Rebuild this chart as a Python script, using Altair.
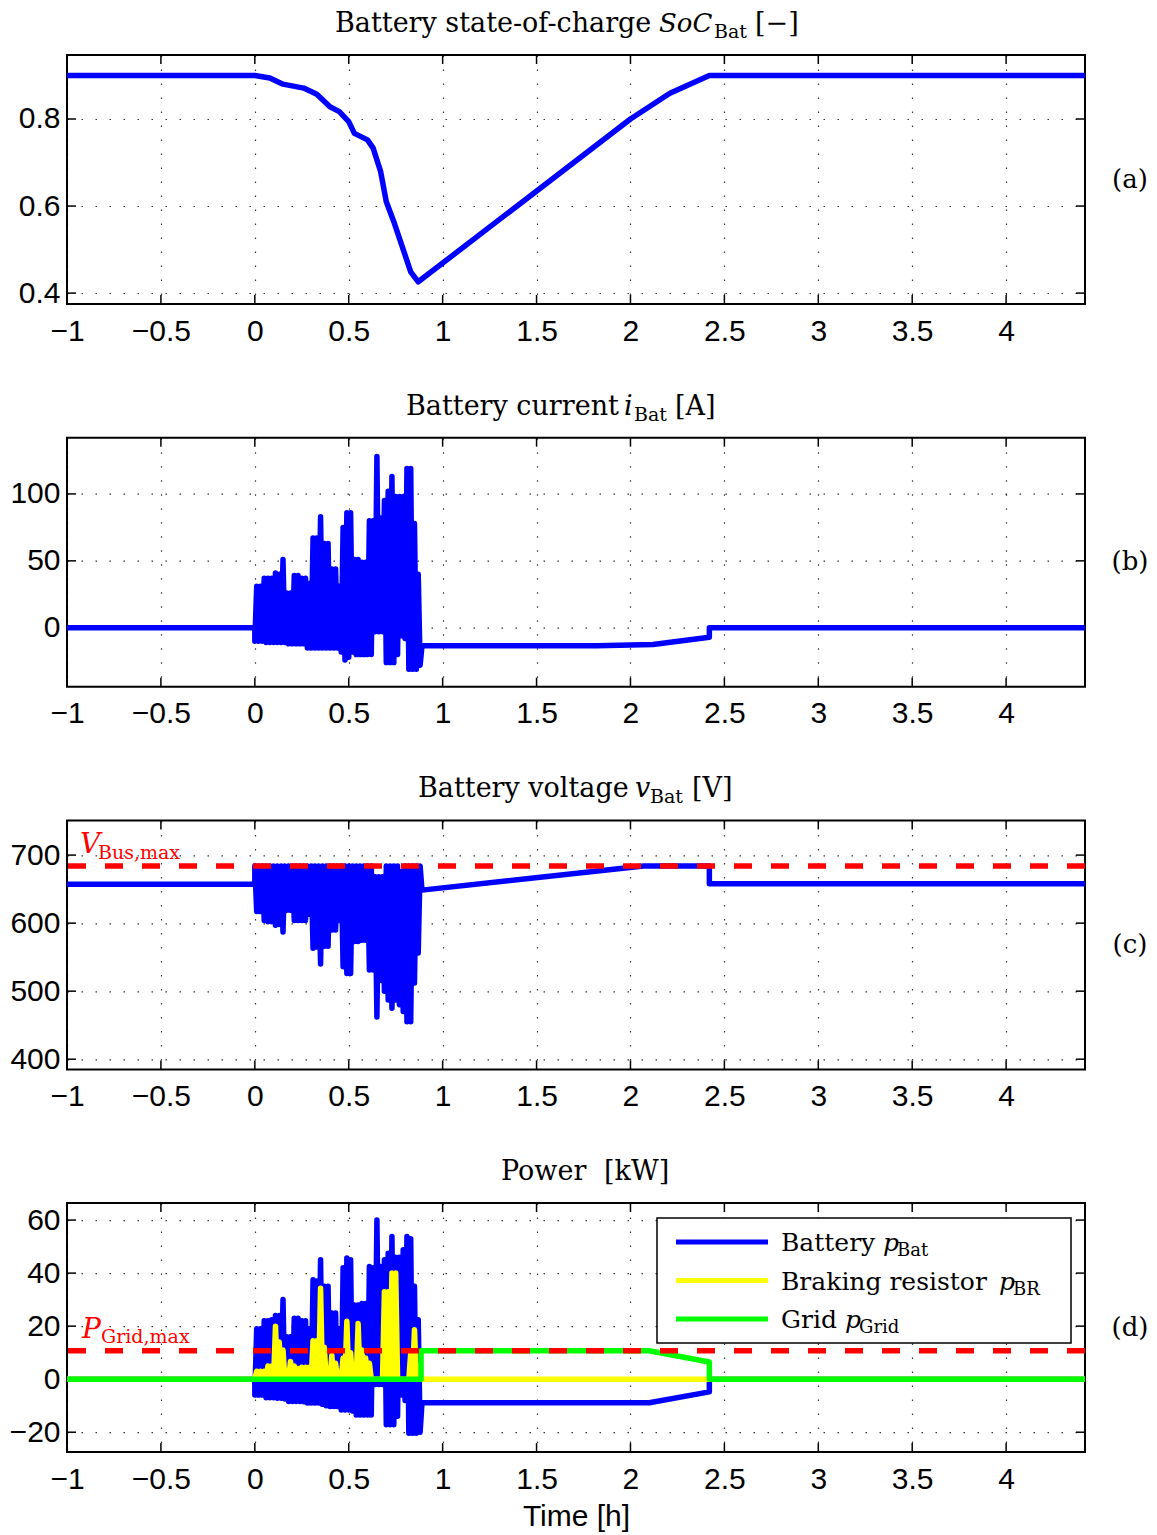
import altair as alt
import pandas as pd

# ---------------- data ----------------
T_MIN, T_MAX = -1.0, 4.42
X_TICKS = [-1, -0.5, 0, 0.5, 1, 1.5, 2, 2.5, 3, 3.5, 4]

# (a) state of charge
soc_t = [-1, 0, 0.08, 0.15, 0.26, 0.33, 0.40, 0.45, 0.50, 0.53, 0.60, 0.63, 0.67,
         0.70, 0.74, 0.77, 0.83, 0.87, 2.0, 2.21, 2.42, 4.42]
soc_v = [0.9, 0.9, 0.894, 0.880, 0.871, 0.857, 0.828, 0.817, 0.794, 0.767, 0.752, 0.733,
         0.679, 0.610, 0.564, 0.526, 0.449, 0.426, 0.80, 0.859, 0.9, 0.9]

# fast switching interval 0 .. 0.88 h : samples every 0.01 h,
# "lo" samples at 0.00, 0.02, ... 0.88 and "hi" samples at 0.01, 0.03, ... 0.87
noise_t = [round(0.01 * k, 2) for k in range(89)]

cur_lo = [-10, -10, -10, -11, -11, -11, -11, -11, -11, -12, -12, -12, -12, -12, -15, -15,
          -15, -15, -15, -15, -15, -15, -15, -18, -24, -22, -18, -20, -20, -20, -20, -20,
          -3, -3, -3, -26, -26, -26, -20, -6, -8, -31, -31, -31, -28]
cur_hi = [31, 31, 37, 37, 37, 41, 40, 51, 26, 26, 39, 39, 37, 37, 33, 67, 67, 83, 63, 63,
          44, 44, 31, 75, 86, 86, 51, 51, 49, 49, 80, 80, 128, 82, 95, 102, 113, 98, 98, 98,
          119, 119, 78, 40]

volt_hi = [684, 684, 684, 684, 684, 684, 684, 684, 684, 684, 684, 684, 684, 684, 684, 684,
           684, 684, 684, 684, 684, 684, 684, 684, 684, 684, 684, 684, 684, 684, 684, 684,
           668, 668, 668, 684, 684, 684, 684, 676, 684, 684, 684, 684, 684]
volt_lo = [617, 617, 604, 602, 602, 597, 598, 587, 619, 619, 604, 604, 604, 604, 613, 563,
           565, 540, 566, 566, 590, 590, 604, 536, 526, 526, 573, 573, 575, 575, 531, 531,
           462, 516, 500, 487, 475, 487, 480, 470, 455, 455, 512, 556]

pbat_lo = [-6, -6, -6, -7, -7, -7, -7.2, -7.2, -7.5, -8.4, -8.4, -8.4, -8.4, -8.5, -9, -9,
           -9, -9, -9.5, -10, -10.3, -10.3, -10.3, -11.6, -11.6, -11.6, -12, -13.5, -13.5,
           -13.5, -13.5, -13.5, -2, -2, -2, -17.2, -17.2, -17.2, -14, -6, -8, -20.4, -20.4,
           -20.4, -20]
pbat_hi = [19, 19, 22, 22, 22.4, 24, 24, 30, 16, 16, 23, 23, 22, 22, 19, 37.5, 37, 45, 35,
           35, 25, 25, 19, 42, 45.7, 45, 28, 28, 28.5, 28.5, 42.5, 42, 60, 42.5, 45, 47.5,
           53.8, 46, 46, 48.8, 53.8, 53, 35, 22.4]

pbr_lo = [0, 0, 0, 0, 0, 0, 0, 0, 0, 0, 0, 0, 0, 0, 0, 0, 0, 0, 0, 0, 0, 0, 0,
          0, 0, 0, 0, 0, 0, 0, 0, 0, 0, 0, 0, 0, 0, 0, 0, 0, 0, 0, 0, 0, 0]
pbr_hi = [3, 3, 3, 5, 5, 20, 14, 11, 2, 6.7, 5, 4, 4.5, 4.5, 4.5, 14.5, 14.5, 34.3, 12, 2,
          9, 6, 1, 8, 21.8, 10, 2, 21, 11, 8, 6, 0, 0, 0, 33, 33, 40, 40, 0, 0, 0, 10, 18.6, 5]

# segments before / after the switching interval
cur_pre_t, cur_pre_v = [-1, 0], [0, 0]
cur_post_t = [0.89, 1.82, 2.12, 2.42, 2.42, 4.42]
cur_post_v = [-13.5, -13.5, -12.5, -7, 0, 0]

volt_pre_t, volt_pre_v = [-1, 0], [657, 657]
volt_post_t = [0.89, 2.07, 2.42, 2.42, 4.42]
volt_post_v = [648.5, 684, 684, 658, 658]

pbat_pre_t, pbat_pre_v = [-1, 0], [0, 0]
pbat_post_t = [0.89, 2.10, 2.42, 2.42, 4.42]
pbat_post_v = [-8.9, -8.9, -4.8, 0, 0]

pbr_pre_t, pbr_pre_v = [-1, 0], [0, 0]
pbr_post_t, pbr_post_v = [0.89, 4.42], [0, 0]

grid_t = [-1, 0.885, 0.885, 2.10, 2.42, 2.42, 4.42]
grid_v = [0, 0, 10.7, 10.7, 6.5, 0, 0]

V_BUS_MAX = 684
P_GRID_MAX = 10.7

Y_DOMAINS = {"a": [0.375, 0.947], "b": [-44, 142], "c": [385, 751], "d": [-27.5, 66.4]}
Y_TICKS = {"a": [0.4, 0.6, 0.8], "b": [0, 50, 100], "c": [400, 500, 600, 700],
           "d": [-20, 0, 20, 40, 60]}
Y_FORMATS = {"a": ".1f", "b": "d", "c": "d", "d": "d"}

# ---------------- helpers ----------------
W, H = 1018, 249
SERIF = "DejaVu Serif"
SANS = "Liberation Sans"
BLUE, YELLOW, GREEN, RED = "#0000ff", "#ffff00", "#00ff00", "#ff0000"
ONE = pd.DataFrame({"k": [0]})


def interleave(lo, hi):
    out = []
    for k in range(len(lo)):
        out.append(lo[k])
        if k < len(hi):
            out.append(hi[k])
    return out


def frame(t, v):
    return pd.DataFrame({"t": t, "v": v, "i": list(range(len(t)))})


def full_series(pre_t, pre_v, lo, hi, post_t, post_v):
    return frame(pre_t + noise_t + post_t, pre_v + interleave(lo, hi) + post_v)


def encs(key, xtitle=None):
    xs = alt.Scale(domain=[T_MIN, T_MAX], nice=False, zero=False)
    ys = alt.Scale(domain=Y_DOMAINS[key], nice=False, zero=False)
    xa = alt.Axis(values=X_TICKS, format="~g", grid=True, ticks=False, domain=False,
                  labelPadding=12, titlePadding=7, labelFlush=False)
    ya = alt.Axis(values=Y_TICKS[key], format=Y_FORMATS[key], grid=True, ticks=False,
                  domain=False, labelPadding=7, labelFlush=False)
    X = alt.X("t:Q", scale=xs, axis=xa, title=xtitle)
    Y = alt.Y("v:Q", scale=ys, axis=ya, title=None)
    return X, Y


def line(df, X, Y, color, width=5.5):
    return alt.Chart(df).mark_line(color=color, strokeWidth=width, strokeJoin="round",
                                   strokeCap="round", clip=True).encode(
        x=X, y=Y, order=alt.Order("i:Q"))


def ticks(key, X, Y):
    xt = pd.DataFrame({"t": X_TICKS})
    yt = pd.DataFrame({"v": Y_TICKS[key]})
    base_x = alt.Chart(xt).mark_rule(color="black", strokeWidth=1.5)
    base_y = alt.Chart(yt).mark_rule(color="black", strokeWidth=1.5)
    return [
        base_x.encode(x=X, y=alt.value(0), y2=alt.value(9)),
        base_x.encode(x=X, y=alt.value(H), y2=alt.value(H - 9)),
        base_y.encode(y=Y, x=alt.value(0), x2=alt.value(9)),
        base_y.encode(y=Y, x=alt.value(W), x2=alt.value(W - 9)),
    ]


def txt(s, x, y, size, color="black", style="normal", font=SERIF, align="left",
        baseline="alphabetic"):
    return alt.Chart(ONE).mark_text(text=s, font=font, fontSize=size, fontStyle=style,
                                    color=color, align=align, baseline=baseline).encode(
        x=alt.value(x), y=alt.value(y))


def hrule(value, X, Y):
    return alt.Chart(pd.DataFrame({"v": [value]})).mark_rule(
        color=RED, strokeWidth=5.5, strokeDash=[18, 19]).encode(y=Y)


TB = -23  # title baseline relative to plot top
SB = -17  # subscript baseline

# ---------------- panel (a) ----------------
Xa, Ya = encs("a")
pa = alt.layer(
    *ticks("a", Xa, Ya),
    line(frame(soc_t, soc_v), Xa, Ya, BLUE),
    txt("Battery state-of-charge", 268, TB, 27),
    txt("SoC", 592, TB, 26, style="italic"),
    txt("Bat", 647, SB, 19),
    txt("[\u2212]", 688, TB, 27),
    txt("(a)", 1063, H / 2, 26, align="center", baseline="middle"),
).properties(width=W, height=H)

# ---------------- panel (b) ----------------
Xb, Yb = encs("b")
pb = alt.layer(
    *ticks("b", Xb, Yb),
    line(full_series(cur_pre_t, cur_pre_v, cur_lo, cur_hi, cur_post_t, cur_post_v),
         Xb, Yb, BLUE),
    txt("Battery current", 339, TB, 27),
    txt("i", 557, TB, 27, style="italic"),
    txt("Bat", 567, SB, 19),
    txt("[A]", 608, TB, 27),
    txt("(b)", 1063, H / 2, 26, align="center", baseline="middle"),
).properties(width=W, height=H)

# ---------------- panel (c) ----------------
Xc, Yc = encs("c")
pc = alt.layer(
    *ticks("c", Xc, Yc),
    line(full_series(volt_pre_t, volt_pre_v, volt_hi, volt_lo, volt_post_t, volt_post_v),
         Xc, Yc, BLUE),
    hrule(V_BUS_MAX, Xc, Yc),
    txt("V", 13, 33, 28, color=RED, style="italic"),
    txt("Bus,max", 31, 39, 19, color=RED),
    txt("Battery voltage", 351, TB, 27),
    txt("v", 568, TB, 27, style="italic"),
    txt("Bat", 583, SB, 19),
    txt("[V]", 625, TB, 27),
    txt("(c)", 1063, H / 2, 26, align="center", baseline="middle"),
).properties(width=W, height=H)

# ---------------- panel (d) ----------------
Xd, Yd = encs("d", xtitle="Time [h]")
legend_rows = [("Battery ", "Bat", BLUE, 816, 830),
               ("Braking resistor ", "BR", YELLOW, 932, 946),
               ("Grid ", "Grid", GREEN, 778, 792)]
legend_layers = [alt.Chart(ONE).mark_rect(fill="white", stroke="black", strokeWidth=1.5).encode(
    x=alt.value(590), x2=alt.value(1004), y=alt.value(15), y2=alt.value(140))]
for k, (lab, sub, col, px, sx) in enumerate(legend_rows):
    yc = 39 + 38.5 * k
    legend_layers.append(alt.Chart(ONE).mark_rule(color=col, strokeWidth=5).encode(
        x=alt.value(609), x2=alt.value(701), y=alt.value(yc)))
    legend_layers.append(txt(lab, 714, yc + 9, 25))
    legend_layers.append(txt("p", px, yc + 9, 25, style="italic"))
    legend_layers.append(txt(sub, sx, yc + 14, 18))

pd_ = alt.layer(
    *ticks("d", Xd, Yd),
    line(full_series(pbat_pre_t, pbat_pre_v, pbat_lo, pbat_hi, pbat_post_t, pbat_post_v),
         Xd, Yd, BLUE),
    line(full_series(pbr_pre_t, pbr_pre_v, pbr_lo, pbr_hi, pbr_post_t, pbr_post_v),
         Xd, Yd, YELLOW),
    line(frame(grid_t, grid_v), Xd, Yd, GREEN),
    hrule(P_GRID_MAX, Xd, Yd),
    *legend_layers,
    txt("P", 15, 135, 28, color=RED, style="italic"),
    txt("Grid,max", 34, 140, 19, color=RED),
    txt("Power", 434, TB, 27),
    txt("[kW]", 537, TB, 27),
    txt("(d)", 1063, H / 2, 26, align="center", baseline="middle"),
).properties(width=W, height=H)

chart = alt.vconcat(pa, pb, pc, pd_, spacing=133.7, bounds="flush").properties(
    padding={"left": 8, "top": 9, "right": 5, "bottom": 5}
).configure_view(stroke="black", strokeWidth=2).configure_axis(
    labelFont=SANS, labelFontSize=30, labelColor="black",
    gridColor="black", gridDash=[1.5, 12.5], gridWidth=1.2, gridOpacity=0.8,
    titleFont=SANS, titleFontSize=30, titleFontWeight="normal", titleColor="black",
)

chart.save("out.html", embed_options={"renderer": "svg", "actions": False})
